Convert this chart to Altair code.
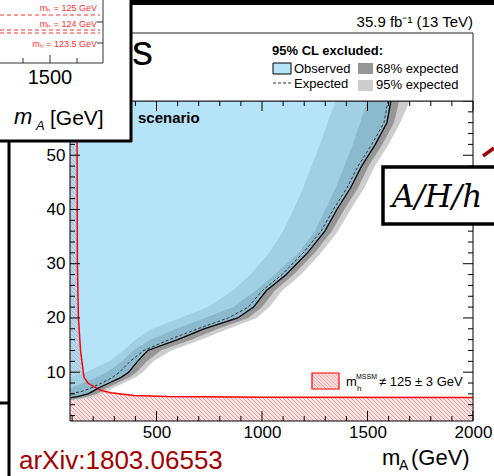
import altair as alt
import pandas as pd
import numpy as np

# ---------------- data ----------------
tb   = [4.8, 5.0, 5.3, 5.5, 6, 6.5, 7, 8, 9, 10, 12, 14, 16, 18, 20, 22, 25, 28, 32, 36, 40, 44, 48, 52, 56, 60]
obs  = [90, 90, 95, 125, 175, 200, 220, 275, 330, 368, 410, 458, 600, 725, 885, 960, 1020, 1115, 1215, 1298, 1355, 1420, 1472, 1537, 1592, 1611]
exp_ = [90, 90, 90, 90, 95, 150, 185, 240, 290, 325, 375, 440, 560, 695, 840, 935, 1000, 1095, 1195, 1280, 1338, 1403, 1455, 1520, 1578, 1597]
lo68 = [90, 90, 90, 90, 90, 90, 90, 150, 212, 265, 337, 390, 470, 595, 730, 865, 970, 1060, 1175, 1250, 1300, 1350, 1390, 1430, 1465, 1500]
hi68 = [90, 110, 150, 175, 215, 240, 260, 315, 370, 405, 455, 520, 665, 790, 935, 1000, 1060, 1150, 1250, 1330, 1390, 1455, 1505, 1570, 1625, 1650]
lo95 = [90, 90, 90, 90, 90, 90, 90, 90, 90, 165, 275, 345, 400, 480, 610, 745, 860, 945, 1035, 1100, 1150, 1195, 1235, 1275, 1310, 1350]
hi95 = [110, 150, 185, 205, 240, 265, 290, 345, 400, 435, 485, 570, 710, 840, 975, 1035, 1095, 1185, 1280, 1360, 1420, 1485, 1535, 1600, 1655, 1700]

# m_h^MSSM != 125 +- 3 GeV boundary
red_mA = [123, 125, 130, 140, 156, 175, 204, 240, 284, 393, 554, 1000, 2000]
red_tb = [60, 30, 20, 14, 9.1, 8, 7.3, 6.6, 6.2, 5.7, 5.5, 5.4, 5.35]

x_major = [500, 1000, 1500, 2000]
x_minor = [100, 200, 300, 400, 600, 700, 800, 900, 1100, 1200, 1300, 1400, 1600, 1700, 1800, 1900]
y_major = [10, 20, 30, 40, 50, 60]
y_minor = [2, 4, 6, 8, 12, 14, 16, 18, 22, 24, 26, 28, 32, 34, 36, 38, 42, 44, 46, 48, 52, 54, 56, 58]

# ---------------- layout ----------------
W, H = 403, 320
X0, Y0 = 70, 101          # page position of plot origin
XMIN, XMAX, YMIN, YMAX = 90, 2000, 1, 60
PXX = W / (XMAX - XMIN)
PXY = H / (YMAX - YMIN)
FONT = "Liberation Sans"

def P(x):
    return x - X0

def Q(y):
    return y - Y0

def to_mA(px):
    return XMIN + px / PXX

def to_tb(py):
    return YMIN + (H - py) / PXY

xs = alt.Scale(domain=[XMIN, XMAX], nice=False, zero=False)
ys = alt.Scale(domain=[YMIN, YMAX], nice=False, zero=False)
xaxis = alt.Axis(values=x_major, title=None, domain=False, ticks=False, grid=False,
                 labelFontSize=17, labelFont=FONT, labelColor="black", labelPadding=3,
                 format="d", labelFlush=False, zindex=0)
yaxis = alt.Axis(values=y_major, title=None, domain=False, ticks=False, grid=False,
                 labelFontSize=17, labelFont=FONT, labelColor="black", labelPadding=5,
                 format="d", zindex=0)

def X(f):
    return alt.X(f"{f}:Q", scale=xs, axis=xaxis)

def Y(f):
    return alt.Y(f"{f}:Q", scale=ys, axis=yaxis)

one = pd.DataFrame({"k": [0]})

def rect(x1, x2, y1, y2, **kw):
    return alt.Chart(one).mark_rect(**kw).encode(
        x=alt.value(P(x1)), x2=alt.value(P(x2)), y=alt.value(Q(y1)), y2=alt.value(Q(y2)))

def rule(x1, y1, x2, y2, **kw):
    return alt.Chart(one).mark_rule(**kw).encode(
        x=alt.value(P(x1)), x2=alt.value(P(x2)), y=alt.value(Q(y1)), y2=alt.value(Q(y2)))

def text(s, x, y, size, **kw):
    kw.setdefault("font", FONT)
    kw.setdefault("align", "left")
    kw.setdefault("baseline", "alphabetic")
    kw.setdefault("color", "black")
    return alt.Chart(one).mark_text(text=s, fontSize=size, **kw).encode(
        x=alt.value(P(x)), y=alt.value(Q(y)))

def hatch_segments(xa, xb, ya, yb, step):
    """45-degree texture lines (top-left to bottom-right) clipped to a pixel box,
    returned in data coordinates."""
    out = []
    for k in np.arange(xa - yb, xb - ya, step):
        a = max(xa, ya + k)
        b = min(xb, yb + k)
        if b > a:
            out.append((to_mA(a), to_tb(a - k), to_mA(b), to_tb(b - k)))
    return pd.DataFrame(out, columns=["hx1", "hy1", "hx2", "hy2"])

# ---------------- data tables ----------------
bands = pd.DataFrame({"tb": tb, "obs": obs, "exp": exp_, "lo68": lo68, "hi68": hi68,
                      "lo95": lo95, "hi95": hi95})
obs_line_df = bands[bands["tb"] >= 5.3]
exp_line_df = bands[bands["tb"] >= 6]
red_df = pd.DataFrame({"mA": red_mA, "tb": red_tb})

hatch_df = hatch_segments(0, W, 0, H, 4.0)                         # plot texture
sw_df = hatch_segments(P(312), P(339), Q(373), Q(389), 3.5)         # legend swatch

BLUE = "#84d0f3"
G68 = "#969696"
G95 = "#cdcdcd"
HATCH = "#ff6a6a"
TINT = "#fde9e9"

def hatch_layer(df, colour):
    return alt.Chart(df).mark_rule(strokeWidth=0.7, stroke=colour, color=colour).encode(
        x=X("hx1"), y=Y("hy1"), x2="hx2", y2="hy2")

layers = []
# pale tint under the hatched region so that it reads pink like the reference
layers.append(alt.Chart(one).mark_rect(fill=TINT).encode(
    x=alt.value(0), x2=alt.value(W), y=alt.value(0), y2=alt.value(H)))
layers.append(hatch_layer(hatch_df, HATCH))
layers.append(alt.Chart(red_df).mark_area(orient="vertical", color="white", clip=True).encode(
    x=X("mA"), y=Y("tb"), y2=alt.datum(YMAX)))
layers.append(alt.Chart(bands).mark_area(orient="horizontal", color=G95, clip=True).encode(
    y=Y("tb"), x=X("lo95"), x2="hi95"))
layers.append(alt.Chart(bands).mark_area(orient="horizontal", color=G68, clip=True).encode(
    y=Y("tb"), x=X("lo68"), x2="hi68"))
layers.append(alt.Chart(bands).mark_area(orient="horizontal", color=BLUE, opacity=0.6, clip=True).encode(
    y=Y("tb"), x=X("obs"), x2=alt.datum(XMIN)))
layers.append(alt.Chart(red_df).mark_line(color="#ff0000", strokeWidth=1.5, clip=True).encode(
    x=X("mA"), y=Y("tb")))
layers.append(alt.Chart(exp_line_df).mark_line(color="#333333", strokeDash=[3, 2], strokeWidth=1, clip=True).encode(
    x=X("exp"), y=Y("tb"), order="tb:Q"))
layers.append(alt.Chart(obs_line_df).mark_line(color="black", strokeWidth=1.3, clip=True).encode(
    x=X("obs"), y=Y("tb"), order="tb:Q"))

# ticks (inward) on all four sides
xmaj = pd.DataFrame({"v": x_major})
xmin_ = pd.DataFrame({"v": x_minor})
ymaj = pd.DataFrame({"v": y_major})
ymin_ = pd.DataFrame({"v": y_minor})
for df, L in ((xmaj, 10), (xmin_, 5)):
    layers.append(alt.Chart(df).mark_rule(color="black", strokeWidth=1).encode(
        x=X("v"), y=alt.value(H), y2=alt.value(H - L)))
    layers.append(alt.Chart(df).mark_rule(color="black", strokeWidth=1).encode(
        x=X("v"), y=alt.value(0), y2=alt.value(L)))
for df, L in ((ymaj, 10), (ymin_, 5)):
    layers.append(alt.Chart(df).mark_rule(color="black", strokeWidth=1).encode(
        y=Y("v"), x=alt.value(0), x2=alt.value(L)))
    layers.append(alt.Chart(df).mark_rule(color="black", strokeWidth=1).encode(
        y=Y("v"), x=alt.value(W), x2=alt.value(W - L)))

# frame
layers.append(rect(X0, X0 + W, Y0, Y0 + H, fillOpacity=0, stroke="black", strokeWidth=1))

# text inside plot
layers.append(text("scenario", 138, 123, 15, fontWeight="bold"))

# m_h legend swatch
layers.append(rect(312, 339, 373, 389, fill=TINT))
layers.append(hatch_layer(sw_df, HATCH))
layers.append(rect(312, 339, 373, 389, fillOpacity=0, stroke="#ff0000", strokeWidth=1.2))
layers.append(text("m", 346, 386, 13))
layers.append(text("h", 357, 391, 8))
layers.append(text("MSSM", 356, 379, 7))
layers.append(text("\u2260 125 \u00b1 3 GeV", 379, 386, 13))

# legend band above the plot
layers.append(rect(X0, X0 + W, 33, Y0, fill="white", stroke="#222222", strokeWidth=1))
layers.append(text("35.9 fb\u207b\u00b9 (13 TeV)", 473, 27, 15, align="right"))
layers.append(text("95% CL excluded:", 272, 55, 13, fontWeight="bold"))
layers.append(rect(273, 291, 63, 74, fill=BLUE, fillOpacity=0.6, stroke="black", strokeWidth=1))
layers.append(text("Observed", 294, 73, 13))
layers.append(rule(273, 83, 291, 83, color="#333333", strokeDash=[3, 2], strokeWidth=1))
layers.append(text("Expected", 294, 88, 13))
layers.append(rect(358, 373, 63, 74, fill=G68))
layers.append(text("68% expected", 376, 73, 13))
layers.append(rect(358, 373, 80, 91, fill=G95))
layers.append(text("95% expected", 376, 89, 13))
layers.append(text("s", 132, 65, 42))
layers.append(rect(130, 494, 0, 5, fill="black"))

# inset (upper left)
layers.append(rect(0, 131, 0, 141, fill="white"))
layers.append(rule(103, 0, 103, 63, color="#333333", strokeWidth=1))
layers.append(rule(0, 63, 103, 63, color="#333333", strokeWidth=1))
for tx, tl in ((23, 5), (50, 8), (77, 5)):
    layers.append(rule(tx, 63, tx, 63 - tl, color="#333333", strokeWidth=1))
for ty in (22, 43):
    layers.append(rule(103, ty, 97, ty, color="#333333", strokeWidth=1))
for dy in (15, 30, 33):
    layers.append(rule(0, dy, 100, dy, color="#ff3030", strokeDash=[4, 3], strokeWidth=1))
layers.append(text("m\u2095 = 125 GeV", 97, 11, 9, align="right", color="#ff3030"))
layers.append(text("m\u2095 = 124 GeV", 97, 27, 9, align="right", color="#ff3030"))
layers.append(text("m\u2095 = 123.5 GeV", 97, 47, 9, align="right", color="#ff3030"))
layers.append(text("1500", 50, 84, 20, align="center"))
layers.append(text("m", 14, 124, 22, fontStyle="italic"))
layers.append(text("A", 36, 130, 13, fontStyle="italic"))
layers.append(text("[GeV]", 50, 125, 21))
layers.append(rule(131, 0, 131, 142, color="black", strokeWidth=3))
layers.append(rule(0, 141, 132, 141, color="black", strokeWidth=3))

# other slide decorations
layers.append(rule(9, 141, 9, 476, color="black", strokeWidth=3))
layers.append(rule(0, 403, 10, 403, color="black", strokeWidth=3))
layers.append(text("arXiv:1803.06553", 19, 469, 26, color="#a50000"))
layers.append(text("m", 382, 465, 22))
layers.append(text("A", 399, 470, 14))
layers.append(text("(GeV)", 411, 465, 22))
layers.append(rect(383, 500, 167, 224, fill="white", stroke="black", strokeWidth=3.5))
layers.append(text("A/H/h", 392, 207, 31, font="DejaVu Serif", fontStyle="italic"))
layers.append(rule(483, 156, 494, 148, color="#a00000", strokeWidth=3.5))

chart = alt.layer(*layers).properties(
    width=W, height=H,
    padding={"left": X0, "top": Y0, "right": 494 - X0 - W, "bottom": 476 - Y0 - H},
    autosize=alt.AutoSizeParams(type="none"),
    background="white",
).configure_view(strokeWidth=0)

chart.save("out.html", embed_options={"renderer": "svg", "actions": False})
